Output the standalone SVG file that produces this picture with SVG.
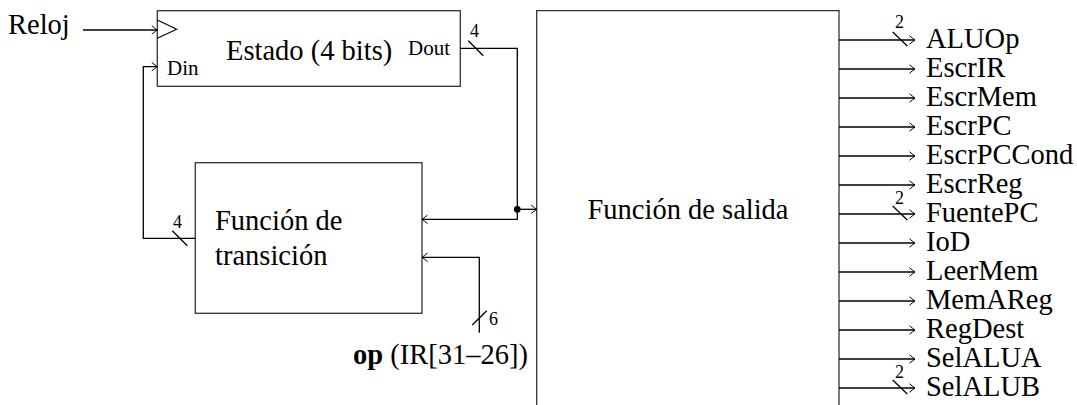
<svg xmlns="http://www.w3.org/2000/svg" width="1077" height="405" viewBox="0 0 1077 405">
<style>
text{font-family:"Liberation Serif","Times New Roman",serif;fill:#000}
.big{font-size:28.5px}
.sm{font-size:21px}
.num{font-size:18px}
.box{fill:#fff;stroke:#333;stroke-width:1.3}
.wire{fill:none;stroke:#000;stroke-width:1.3}
.arr{fill:none;stroke:#000;stroke-width:1.3;marker-end:url(#ah)}
.sl{stroke:#000;stroke-width:1.3}
</style>
<defs>
<marker id="ah" markerUnits="userSpaceOnUse" markerWidth="12" markerHeight="12" viewBox="-7 -6 8 12" refX="0" refY="0" orient="auto">
<path d="M-5.5,-4.2 Q-1.5,-1 0,0 Q-1.5,1 -5.5,4.2" fill="none" stroke="#000" stroke-width="1"/>
</marker>
</defs>

<g id="reloj">
<text class="big" x="8" y="34">Reloj</text>
</g>

<g id="estado">
<rect class="box" x="157.3" y="10.7" width="303" height="75.6"/>
<path d="M157.3,20 L176.7,29.3 L157.3,38.3" fill="none" stroke="#000" stroke-width="1.1"/>
<text class="big" x="226" y="60">Estado (4 bits)</text>
<text class="sm" x="167" y="75">Din</text>
<text class="sm" x="408" y="55">Dout</text>
</g>

<g id="transicion">
<rect class="box" x="195.3" y="162.7" width="226.7" height="150.6"/>
<text class="big" x="215" y="230">Función de</text>
<text class="big" x="215" y="265">transición</text>
</g>

<g id="salida">
<path class="box" d="M536.7,410 V10.7 H839 V410"/>
<text class="big" x="688" y="219" text-anchor="middle">Función de salida</text>
</g>

<g id="op">
<text class="big" x="353" y="364"><tspan font-weight="bold">op</tspan> (IR[31–26])</text>
</g>

<g id="connectors">
<line class="arr" x1="83" y1="30" x2="157.3" y2="30"/>
<path class="arr" d="M195.3,238.3 H143.3 V66.7 H157.3"/>
<line class="sl" x1="172.3" y1="230.7" x2="187.3" y2="245.7"/>
<text class="num" x="173" y="228">4</text>
<path class="arr" d="M460.3,48.3 H517.3 V219.3 H422"/>
<line class="sl" x1="468.3" y1="40.7" x2="483.3" y2="55.7"/>
<text class="num" x="470" y="37">4</text>
<circle cx="517.3" cy="209.3" r="3.4" fill="#000"/>
<line class="arr" x1="517.3" y1="209.3" x2="536.7" y2="209.3"/>
<path class="arr" d="M479.3,332.7 V257.3 H422"/>
<line class="sl" x1="472.3" y1="325" x2="486.7" y2="310.7"/>
<text class="num" x="489" y="325">6</text>

<line class="arr" x1="839" y1="40" x2="915" y2="40"/>
<line class="arr" x1="839" y1="69" x2="915" y2="69"/>
<line class="arr" x1="839" y1="98" x2="915" y2="98"/>
<line class="arr" x1="839" y1="127" x2="915" y2="127"/>
<line class="arr" x1="839" y1="156" x2="915" y2="156"/>
<line class="arr" x1="839" y1="185" x2="915" y2="185"/>
<line class="arr" x1="839" y1="214" x2="915" y2="214"/>
<line class="arr" x1="839" y1="243" x2="915" y2="243"/>
<line class="arr" x1="839" y1="272" x2="915" y2="272"/>
<line class="arr" x1="839" y1="301" x2="915" y2="301"/>
<line class="arr" x1="839" y1="330" x2="915" y2="330"/>
<line class="arr" x1="839" y1="359" x2="915" y2="359"/>
<line class="arr" x1="839" y1="388" x2="915" y2="388"/>
<line class="sl" x1="892.7" y1="32" x2="907.3" y2="46"/>
<text class="num" x="895" y="28">2</text>
<line class="sl" x1="892.7" y1="206" x2="907.3" y2="220"/>
<text class="num" x="895" y="204">2</text>
<line class="sl" x1="892.7" y1="380" x2="907.3" y2="394"/>
<text class="num" x="895" y="378">2</text>
</g>

<g id="outputs">
<text class="big" x="926" y="48">ALUOp</text>
<text class="big" x="926" y="77">EscrIR</text>
<text class="big" x="926" y="106">EscrMem</text>
<text class="big" x="926" y="135">EscrPC</text>
<text class="big" x="926" y="164">EscrPCCond</text>
<text class="big" x="926" y="193">EscrReg</text>
<text class="big" x="926" y="222">FuentePC</text>
<text class="big" x="926" y="251">IoD</text>
<text class="big" x="926" y="280">LeerMem</text>
<text class="big" x="926" y="309">MemAReg</text>
<text class="big" x="926" y="338">RegDest</text>
<text class="big" x="926" y="367">SelALUA</text>
<text class="big" x="926" y="396">SelALUB</text>
</g>
</svg>
